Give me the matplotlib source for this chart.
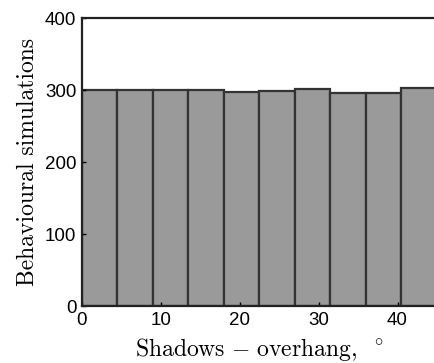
import numpy as np
import matplotlib
matplotlib.use("Agg")
import matplotlib.pyplot as plt

# counts per overhang bin (degrees), 10 bins from 0 to 45
bin_edges = [0, 4.5, 9, 13.5, 18, 22.5, 27, 31.5, 36, 40.5, 45]
counts = [300, 300, 300, 300, 297, 299, 302, 296, 296, 303]
x_ticks = [0, 10, 20, 30, 40]
y_ticks = [0, 100, 200, 300, 400]

plt.rcParams["mathtext.fontset"] = "cm"

fig = plt.figure(figsize=(4.35, 3.63), dpi=100)
ax = fig.add_axes([0.1885, 0.157, 0.816, 0.793])

widths = np.diff(bin_edges)
ax.bar(bin_edges[:-1], counts, width=widths, align="edge",
       color="#9a9a9a", edgecolor="#333333", linewidth=1.6)

ax.set_xlim(0, 45)
ax.set_ylim(0, 400)
ax.set_xticks(x_ticks)
ax.set_yticks(y_ticks)
ax.tick_params(direction="in", length=3, width=1, labelsize=13.5, pad=4)
for lab in ax.get_xticklabels() + ax.get_yticklabels():
    lab.set_family(["Liberation Sans", "DejaVu Sans"])
for s in ax.spines.values():
    s.set_linewidth(1.6)
    s.set_color("#222222")

ax.set_ylabel("Behavioural simulations", fontsize=17,
              family=["cmr10", "DejaVu Serif"], labelpad=4)
ax.set_xlabel(r"$\mathrm{Shadows}\ {-}\ \mathrm{overhang,}^{\ \ \circ}$",
              fontsize=17, labelpad=5)

fig.savefig("out.png", dpi=100)
